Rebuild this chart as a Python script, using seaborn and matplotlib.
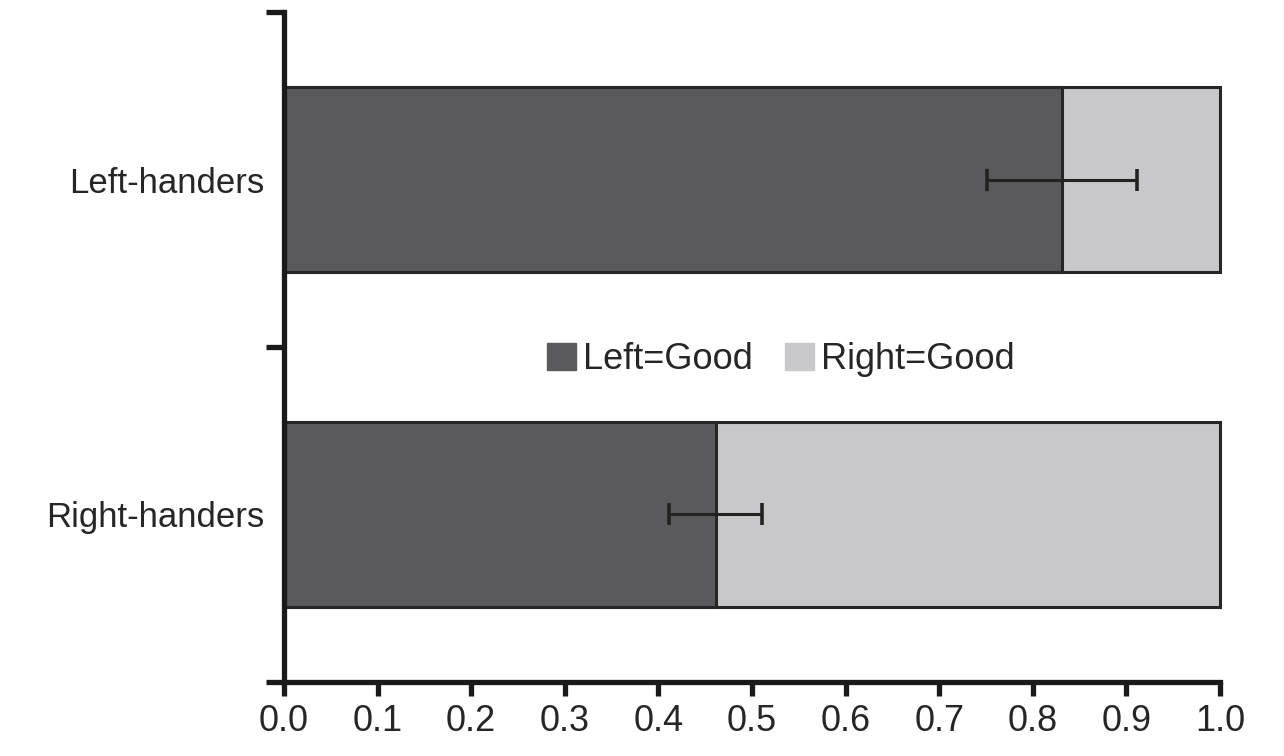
import pandas as pd
import matplotlib.pyplot as plt
import seaborn as sns
from matplotlib.patches import Patch

sns.set_style("ticks")
plt.rcParams["font.family"] = ["Liberation Sans", "DejaVu Sans"]

# values
groups = ["Left-handers", "Right-handers"]
left_good = [0.831, 0.461]
right_good = [0.169, 0.539]
left_err = [0.080, 0.050]
series_names = ["Left=Good", "Right=Good"]
x_ticks = [0.0, 0.1, 0.2, 0.3, 0.4, 0.5, 0.6, 0.7, 0.8, 0.9, 1.0]

dark = "#5a5a5c"
light = "#c8c8ca"
edge = "#262626"

df = pd.DataFrame({
    "group": groups,
    "left_good": left_good,
    "total": [a + b for a, b in zip(left_good, right_good)],
    "err": left_err,
})

fig = plt.figure(figsize=(12.84, 7.56), dpi=100)
ax = fig.add_axes([0.2212, 0.0979, 0.9502 - 0.2212, 0.9841 - 0.0979])

sns.barplot(data=df, x="total", y="group", order=groups, color=light,
            width=0.555, edgecolor=edge, linewidth=2.2, saturation=1, ax=ax)
sns.barplot(data=df, x="left_good", y="group", order=groups, color=dark,
            width=0.555, edgecolor=edge, linewidth=2.2, saturation=1, ax=ax)
for p in ax.patches:
    p.set_clip_on(False)
ax.errorbar(df["left_good"], range(len(groups)), xerr=df["err"], fmt="none",
            ecolor="#222222", elinewidth=2.2, capsize=8, capthick=2.6, zorder=5)

ax.set_xlim(0, 1.0)
ax.set_ylim(1.5, -0.5)
ax.set_xticks(x_ticks)
ax.set_xticklabels([f"{t:.1f}" for t in x_ticks], fontsize=26)
ax.set_yticks([0, 1])
ax.set_yticklabels(groups, fontsize=25)
ax.set_yticks([-0.5, 0.5, 1.5], minor=True)
ax.set_xlabel("")
ax.set_ylabel("")

sns.despine(ax=ax)
for side in ["left", "bottom"]:
    ax.spines[side].set_linewidth(3.8)
    ax.spines[side].set_color("#1a1a1a")
ax.tick_params(axis="x", direction="out", length=10, width=3.8, color="#1a1a1a", pad=6)
ax.tick_params(axis="y", which="major", length=0, pad=14)
ax.tick_params(axis="y", which="minor", direction="out", length=13, width=3.8, color="#1a1a1a")

handles = [Patch(facecolor=dark, edgecolor=dark), Patch(facecolor=light, edgecolor=light)]
ax.legend(handles, series_names, loc="center", bbox_to_anchor=(0.531, 0.481), ncol=2,
          frameon=False, fontsize=26, handlelength=0.8, handleheight=0.8,
          handletextpad=0.2, columnspacing=0.9)

fig.savefig("out.png", dpi=100)
